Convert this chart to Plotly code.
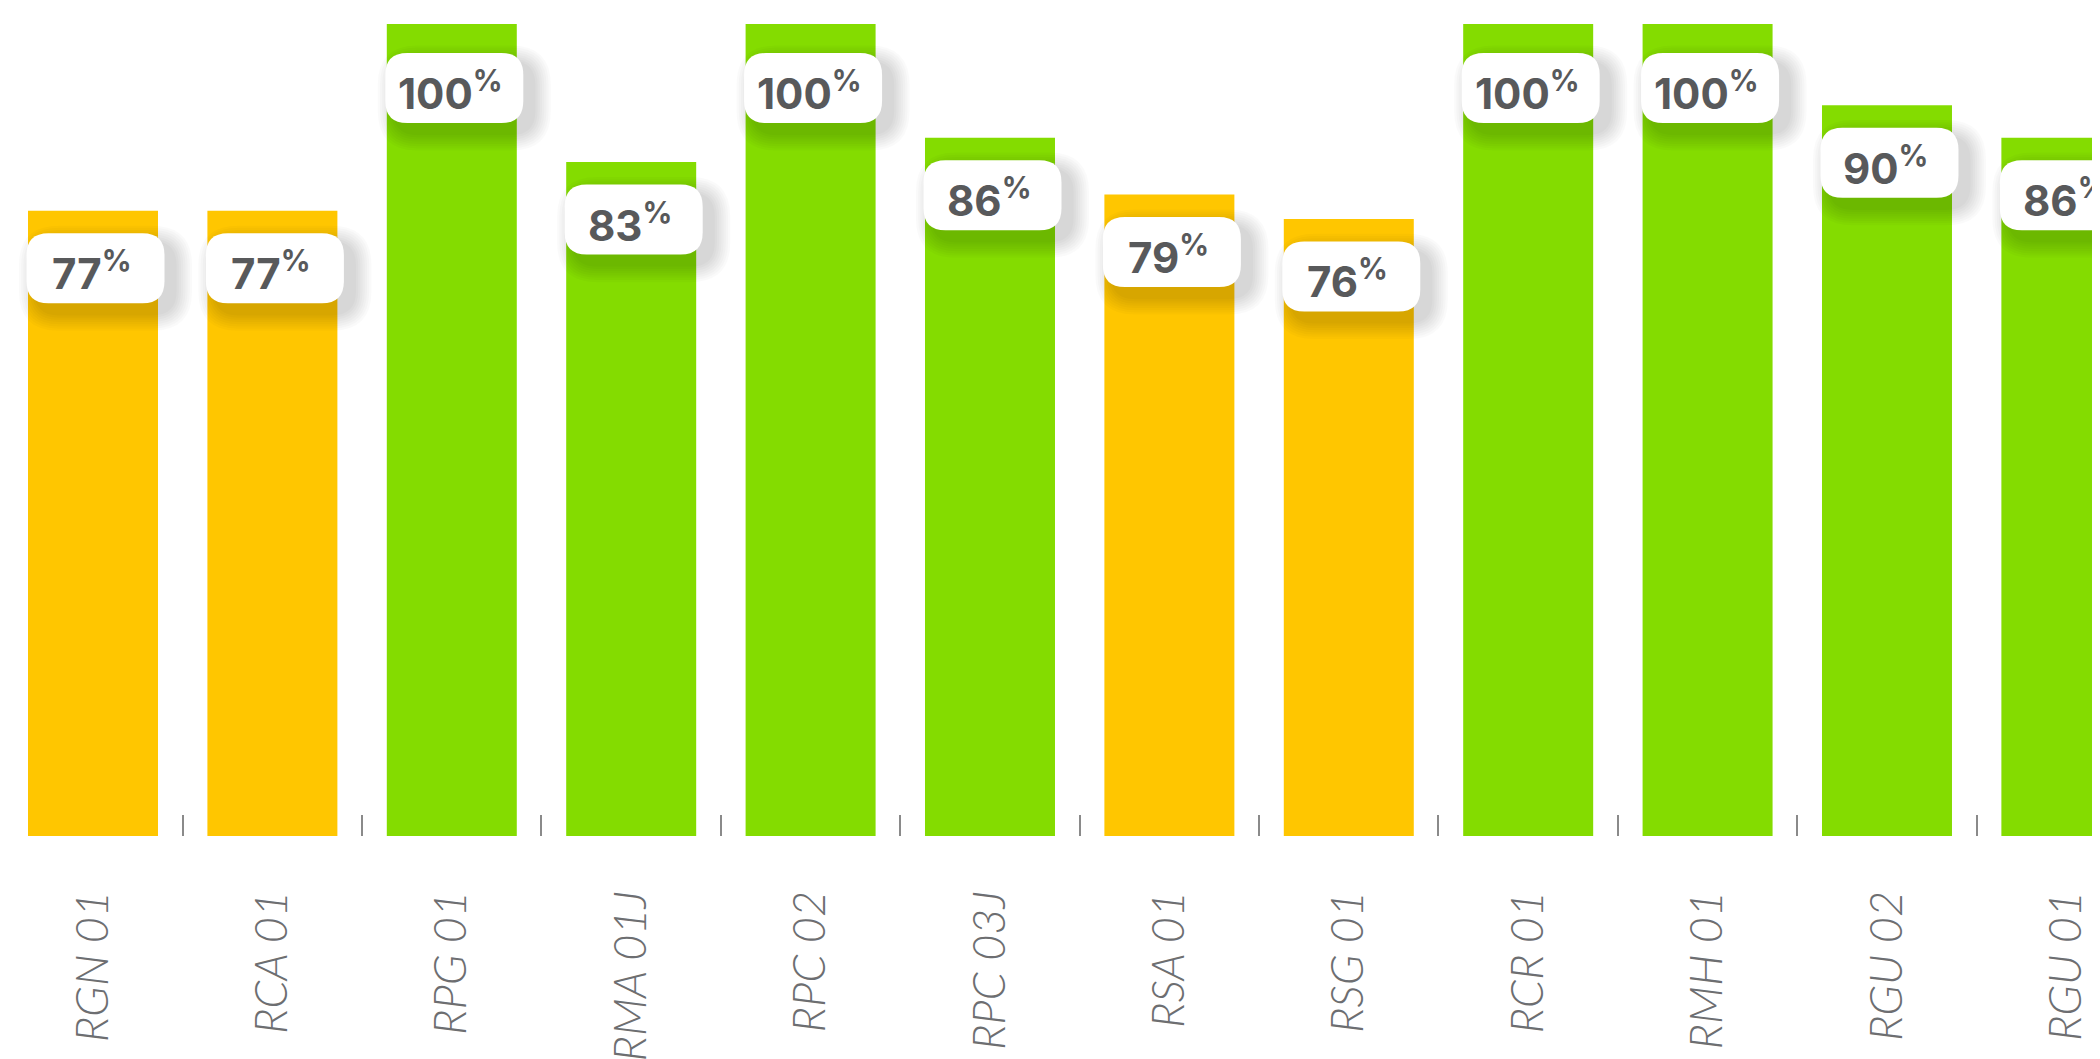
import plotly.graph_objects as go

categories = ["RGN 01", "RCA 01", "RPG 01", "RMA 01J", "RPC 02", "RPC 03J",
              "RSA 01", "RSG 01", "RCR 01", "RMH 01", "RGU 02", "RGU 01"]
values = [77, 77, 100, 83, 100, 86, 79, 76, 100, 100, 90, 86]

YELLOW = "#FFC600"
GREEN = "#84DC00"
THRESHOLD = 80
colors = [GREEN if v >= THRESHOLD else YELLOW for v in values]

xs = list(range(len(categories)))

fig = go.Figure()
fig.add_trace(go.Bar(x=xs, y=values, marker=dict(color=colors, line=dict(width=0)),
                     hoverinfo="skip"))


def rrect(x0, x1, y0, y1, r):
    # y positive = up (pixel offsets from anchor)
    return (f"M {x0 + r},{y1} L {x1 - r},{y1} Q {x1},{y1} {x1},{y1 - r} "
            f"L {x1},{y0 + r} Q {x1},{y0} {x1 - r},{y0} "
            f"L {x0 + r},{y0} Q {x0},{y0} {x0},{y0 + r} "
            f"L {x0},{y1 - r} Q {x0},{y1} {x0 + r},{y1} Z")


BOX_W, BOX_H, R = 138, 70, 22
BOX_DX = 2.5      # box center offset right of bar center (px)
BOX_DY = 57.5     # box center offset below anchor (px)
CAP = 99.2

shapes = []
annotations = []
for k, v in enumerate(values):
    anchor = min(v, CAP)
    cx, cy = BOX_DX, -BOX_DY
    x0, x1 = cx - BOX_W / 2, cx + BOX_W / 2
    y0, y1 = cy - BOX_H / 2, cy + BOX_H / 2
    # soft drop shadow
    for i in range(1, 9):
        e = 2.2 * i
        shapes.append(dict(type="path", xref="x", yref="y", xsizemode="pixel", ysizemode="pixel",
                           xanchor=k, yanchor=anchor,
                           path=rrect(x0 + 10 - e, x1 + 10 + e, y0 - 10 - e, y1 - 10 + e, R + e),
                           fillcolor="rgba(0,0,0,0.02)", line=dict(width=0), layer="above"))
    shapes.append(dict(type="path", xref="x", yref="y", xsizemode="pixel", ysizemode="pixel",
                       xanchor=k, yanchor=anchor, path=rrect(x0, x1, y0, y1, R),
                       fillcolor="white", line=dict(width=0), layer="above"))
    annotations.append(dict(x=k, y=anchor, xref="x", yref="y", xshift=-1, yshift=-BOX_DY - 3,
                            text=f"<b>{v}</b><sup><b>%</b></sup>", showarrow=False,
                            xanchor="center", yanchor="middle",
                            font=dict(family="Inter", size=42, color="#58595B")))

fig.update_layout(
    width=2100, height=1059,
    margin=dict(l=0, r=0, t=0, b=231, autoexpand=False),
    paper_bgcolor="white", plot_bgcolor="white",
    showlegend=False,
    bargap=0.2754,
    shapes=shapes, annotations=annotations,
    xaxis=dict(range=[-0.4738, 11.232], tickmode="array", tickvals=xs, ticktext=categories,
               ticks="", tickangle=-90, showgrid=False, zeroline=False, showline=False,
               automargin=False, ticklabelstandoff=45,
               tickfont=dict(family="Lato", size=45, color="#6D6E71", style="italic", weight=300),
               minor=dict(tickmode="array", tickvals=[k + 0.5 for k in xs[:-1]],
                          ticks="inside", ticklen=21, tickwidth=1.5, tickcolor="#8A8A8A",
                          showgrid=False)),
    yaxis=dict(range=[0, 101.97], visible=False, showgrid=False, zeroline=False),
)

fig.write_html("out.html")
